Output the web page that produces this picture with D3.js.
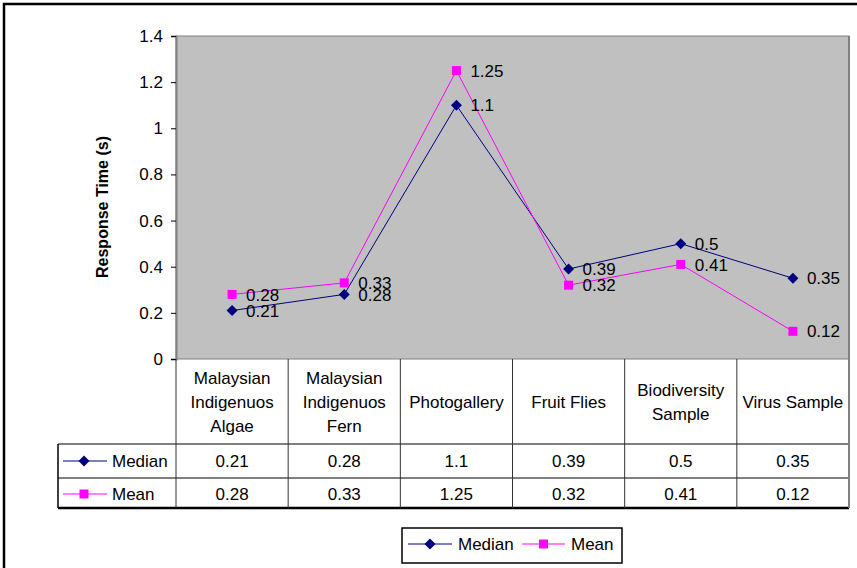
<!DOCTYPE html>
<html>
<head>
<meta charset="utf-8">
<script src="https://cdn.jsdelivr.net/npm/d3@7"></script>
<style>
  html, body { margin: 0; padding: 0; background: #fff; }
  svg { display: block; font-family: "Liberation Sans", Arial, sans-serif; }
</style>
</head>
<body>
<svg id="chart" width="857" height="568"></svg>
<script>
// Response times per sample collection
const categories = [
  "Malaysian\nIndigenuos\nAlgae",
  "Malaysian\nIndigenuos\nFern",
  "Photogallery",
  "Fruit Flies",
  "Biodiversity\nSample",
  "Virus Sample"
];
const medianValues = [0.21, 0.28, 1.1, 0.39, 0.5, 0.35];
const meanValues = [0.28, 0.33, 1.25, 0.32, 0.41, 0.12];
const yTicks = [0, 0.2, 0.4, 0.6, 0.8, 1, 1.2, 1.4];
const seriesNames = ["Median", "Mean"];

const series = [
  { name: seriesNames[0], values: medianValues, color: "#000080", shape: "diamond" },
  { name: seriesNames[1], values: meanValues, color: "#FF00FF", shape: "square" }
];

const svg = d3.select("#chart");
const plot = { left: 176, right: 849, top: 36, bottom: 359 };
const fontSize = 17;

const x = d3.scaleBand().domain(d3.range(categories.length)).range([plot.left, plot.right]);
const y = d3.scaleLinear().domain([0, 1.4]).range([plot.bottom, plot.top]);

// outer chart frame
svg.append("rect")
  .attr("x", 4).attr("y", 4).attr("width", 900).attr("height", 600)
  .attr("fill", "none").attr("stroke", "#000").attr("stroke-width", 2.5);

// plot area
svg.append("rect")
  .attr("x", plot.left).attr("y", plot.top)
  .attr("width", plot.right - plot.left).attr("height", plot.bottom - plot.top)
  .attr("fill", "#C0C0C0").attr("stroke", "#808080").attr("stroke-width", 1);
svg.append("line")
  .attr("x1", plot.right).attr("x2", plot.right).attr("y1", plot.top).attr("y2", plot.bottom)
  .attr("stroke", "#808080").attr("stroke-width", 2);

// y axis
const yAxis = d3.axisLeft(y).tickValues(yTicks).tickSize(5).tickPadding(8)
  .tickFormat(d => d3.format("")(+d.toFixed(1)));
const yg = svg.append("g").attr("transform", `translate(${plot.left},0)`).call(yAxis);
yg.select(".domain").attr("stroke", "#808080").attr("stroke-width", 2);
yg.selectAll(".tick line").attr("stroke", "#000");
yg.selectAll(".tick text")
  .attr("font-size", fontSize).attr("fill", "#000")
  .attr("font-family", "Liberation Sans, Arial, sans-serif");

// axis title
svg.append("text")
  .attr("transform", "translate(108,207) rotate(-90)")
  .attr("text-anchor", "middle")
  .attr("font-size", 16).attr("font-weight", "bold")
  .text("Response Time (s)");

// markers
function drawMarker(g, shape, color, cx, cy) {
  if (shape === "diamond") {
    const r = 5.5;
    g.append("path")
      .attr("d", `M${cx},${cy - r}L${cx + r},${cy}L${cx},${cy + r}L${cx - r},${cy}Z`)
      .attr("fill", color);
  } else {
    const s = 9;
    g.append("rect")
      .attr("x", cx - s / 2).attr("y", cy - s / 2)
      .attr("width", s).attr("height", s).attr("fill", color);
  }
}

const cx = i => x(i) + x.bandwidth() / 2;
const line = d3.line().x((d, i) => cx(i)).y(d => y(d));

series.forEach(s => {
  const g = svg.append("g");
  g.append("path").datum(s.values)
    .attr("d", line).attr("fill", "none")
    .attr("stroke", s.color).attr("stroke-width", 1);
  s.values.forEach((v, i) => drawMarker(g, s.shape, s.color, cx(i), y(v)));
});

// data labels
series.forEach(s => {
  svg.append("g").selectAll("text").data(s.values).join("text")
    .attr("x", (d, i) => cx(i) + 14)
    .attr("y", d => y(d))
    .attr("dy", "0.36em")
    .attr("font-size", fontSize)
    .attr("fill", "#000")
    .text(d => d);
});

// data table
const table = { left: 58, headerBottom: 444, row1Bottom: 478, bottom: 508 };
const tg = svg.append("g");
const boundaries = d3.range(categories.length).map(i => x(i)).concat([plot.right]);

[table.headerBottom, table.row1Bottom].forEach(yy => {
  tg.append("line").attr("x1", table.left).attr("x2", plot.right)
    .attr("y1", yy).attr("y2", yy).attr("stroke", "#000").attr("stroke-width", 1);
});
tg.append("line").attr("x1", table.left).attr("x2", plot.right)
  .attr("y1", table.bottom).attr("y2", table.bottom)
  .attr("stroke", "#000").attr("stroke-width", 2.5);
tg.append("line").attr("x1", table.left).attr("x2", table.left)
  .attr("y1", table.headerBottom).attr("y2", table.bottom)
  .attr("stroke", "#000").attr("stroke-width", 1.5);
boundaries.forEach((bx, i) => {
  tg.append("line").attr("x1", bx).attr("x2", bx)
    .attr("y1", plot.bottom).attr("y2", table.bottom)
    .attr("stroke", i === boundaries.length - 1 ? "#808080" : "#333")
    .attr("stroke-width", i === boundaries.length - 1 ? 2 : 1);
});

// category headers
const headerCenter = (plot.bottom + table.headerBottom) / 2;
const lineGap = 24;
categories.forEach((c, i) => {
  const lines = c.split("\n");
  const t = tg.append("text").attr("text-anchor", "middle").attr("font-size", fontSize);
  lines.forEach((ln, k) => {
    t.append("tspan")
      .attr("x", cx(i))
      .attr("y", headerCenter + (k - (lines.length - 1) / 2) * lineGap)
      .attr("dy", "0.36em")
      .text(ln);
  });
});

// value rows
const rowCenters = [(table.headerBottom + table.row1Bottom) / 2, (table.row1Bottom + table.bottom) / 2 + 1];
series.forEach((s, r) => {
  const yy = rowCenters[r];
  tg.append("line").attr("x1", 63).attr("x2", 107).attr("y1", yy).attr("y2", yy)
    .attr("stroke", s.color).attr("stroke-width", 1);
  drawMarker(tg, s.shape, s.color, 84, yy);
  tg.append("text").attr("x", 112).attr("y", yy).attr("dy", "0.36em")
    .attr("font-size", fontSize).text(s.name);
  s.values.forEach((v, i) => {
    tg.append("text").attr("x", cx(i)).attr("y", yy).attr("dy", "0.36em")
      .attr("text-anchor", "middle").attr("font-size", fontSize).text(v);
  });
});

// legend
const lg = svg.append("g");
lg.append("rect").attr("x", 402).attr("y", 528).attr("width", 220).attr("height", 35)
  .attr("fill", "#fff").attr("stroke", "#000").attr("stroke-width", 1.5);
const legendY = 544;
const legendItems = [
  { s: series[0], x1: 408, x2: 452, tx: 458 },
  { s: series[1], x1: 522, x2: 565, tx: 571 }
];
legendItems.forEach(it => {
  lg.append("line").attr("x1", it.x1).attr("x2", it.x2).attr("y1", legendY).attr("y2", legendY)
    .attr("stroke", it.s.color).attr("stroke-width", 1);
  drawMarker(lg, it.s.shape, it.s.color, (it.x1 + it.x2) / 2, legendY);
  lg.append("text").attr("x", it.tx).attr("y", legendY).attr("dy", "0.36em")
    .attr("font-size", fontSize).text(it.s.name);
});
</script>
</body>
</html>
